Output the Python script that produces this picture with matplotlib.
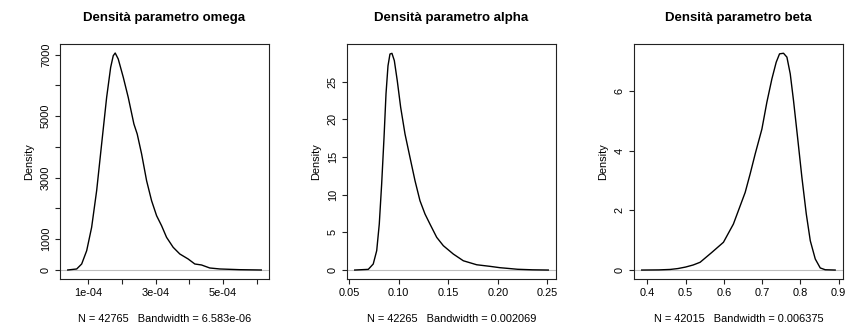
import matplotlib
matplotlib.use("Agg")
import matplotlib.pyplot as plt
from matplotlib.ticker import FixedLocator, FixedFormatter

plt.rcParams["font.family"] = ["Liberation Sans", "DejaVu Sans"]

titles = ["Densità parametro omega", "Densità parametro alpha", "Densità parametro beta"]
subs = ["N = 42765   Bandwidth = 6.583e-06",
        "N = 42265   Bandwidth = 0.002069",
        "N = 42015   Bandwidth = 0.006375"]

# density curves
omega_x = [0.39e-4, 0.656e-4, 0.804e-4, 0.953e-4, 1.10e-4, 1.249e-4, 1.397e-4,
           1.546e-4, 1.665e-4, 1.742e-4, 1.80e-4, 1.89e-4, 2.04e-4, 2.187e-4,
           2.356e-4, 2.454e-4, 2.585e-4, 2.733e-4, 2.881e-4, 3.03e-4, 3.178e-4,
           3.326e-4, 3.522e-4, 3.72e-4, 3.967e-4, 4.166e-4, 4.365e-4, 4.61e-4,
           4.91e-4, 5.50e-4, 6.14e-4]
omega_y = [0, 33, 195, 628, 1387, 2579, 4096, 5613, 6587, 6966, 7054, 6860, 6265,
           5614, 4746, 4421, 3771, 2903, 2253, 1765, 1440, 1062, 738, 520, 358, 195,
           163, 65, 33, 10, 0]

alpha_x = [0.0555, 0.0692, 0.0742, 0.0777, 0.0803, 0.0827, 0.0851, 0.0871, 0.0891,
           0.0911, 0.0931, 0.0955, 0.0985, 0.1019, 0.1063, 0.1113, 0.1164, 0.1214,
           0.1265, 0.1315, 0.1383, 0.1450, 0.1551, 0.1652, 0.1787, 0.1921, 0.2022,
           0.2100, 0.2200, 0.2350, 0.2510]
alpha_y = [0, 0.09, 0.8, 2.57, 6.1, 11.4, 17.6, 23.4, 27.1, 28.67, 28.76, 27.8, 25.1,
           21.6, 18.05, 14.96, 11.85, 9.2, 7.43, 6.1, 4.34, 3.23, 2.12, 1.23, 0.7,
           0.49, 0.31, 0.22, 0.1, 0.03, 0]

beta_x = [0.3854, 0.43, 0.46, 0.48, 0.50, 0.52, 0.538, 0.5686, 0.599, 0.625, 0.6558,
          0.6688, 0.682, 0.6995, 0.7125, 0.7256, 0.7369, 0.7456, 0.756, 0.7649,
          0.7736, 0.7822, 0.7927, 0.804, 0.8155, 0.826, 0.839, 0.852, 0.865, 0.891]
beta_y = [0, 0.005, 0.02, 0.05, 0.10, 0.17, 0.26, 0.59, 0.93, 1.54, 2.60, 3.22, 3.89,
          4.72, 5.62, 6.40, 6.96, 7.24, 7.26, 7.13, 6.57, 5.67, 4.45, 3.11, 1.88, 0.98,
          0.37, 0.07, 0.01, 0]

xticks = [[1e-4, 2e-4, 3e-4, 4e-4, 5e-4, 6e-4],
          [0.05, 0.10, 0.15, 0.20, 0.25],
          [0.4, 0.5, 0.6, 0.7, 0.8, 0.9]]
xlabels = [["1e-04", "", "3e-04", "", "5e-04", ""],
           ["0.05", "0.10", "0.15", "0.20", "0.25"],
           ["0.4", "0.5", "0.6", "0.7", "0.8", "0.9"]]
yticks = [[0, 1000, 2000, 3000, 4000, 5000, 6000, 7000],
          [0, 5, 10, 15, 20, 25],
          [0, 2, 4, 6]]
ylabels = [["0", "1000", "", "3000", "", "5000", "", "7000"],
           ["0", "5", "10", "15", "20", "25"],
           ["0", "2", "4", "6"]]

xlims = [(0.16e-4, 6.37e-4), (0.0477, 0.2588), (0.3652, 0.9115)]
ylims = [(-293, 7347), (-1.19, 30.0), (-0.30, 7.57)]

W, H = 846, 331
fig = plt.figure(figsize=(W / 100, H / 100), dpi=100)

curves = [(omega_x, omega_y), (alpha_x, alpha_y), (beta_x, beta_y)]
for i, (xs, ys) in enumerate(curves):
    left = 60 + 287 * i
    ax = fig.add_axes([left / W, 52 / H, 209 / W, 235 / H])
    ax.axhline(0, color="#bebebe", lw=0.8, zorder=1)
    ax.plot(xs, ys, color="black", lw=1.0, zorder=2)
    ax.set_xlim(*xlims[i])
    ax.set_ylim(*ylims[i])
    ax.xaxis.set_major_locator(FixedLocator(xticks[i]))
    ax.xaxis.set_major_formatter(FixedFormatter(xlabels[i]))
    ax.yaxis.set_major_locator(FixedLocator(yticks[i]))
    ax.yaxis.set_major_formatter(FixedFormatter(ylabels[i]))
    ax.tick_params(length=3.5, width=0.8, labelsize=7.9, pad=3, color="#222222")
    ax.tick_params(axis="y", labelrotation=90)
    for lab in ax.get_yticklabels():
        lab.set_verticalalignment("center")
    for s in ax.spines.values():
        s.set_linewidth(0.8)
        s.set_color("#222222")
    ax.text(0.5, 1 + 26 / 235, titles[i], transform=ax.transAxes, ha="center",
            va="center", fontsize=9.5, fontweight="bold")
    ax.text(0.5, -40 / 235, subs[i], transform=ax.transAxes, ha="center",
            va="center", fontsize=7.9)
    ax.text(-31 / 209, 0.5, "Density", transform=ax.transAxes, ha="center",
            va="center", rotation=90, fontsize=7.9)

fig.savefig("out.png", dpi=100)
